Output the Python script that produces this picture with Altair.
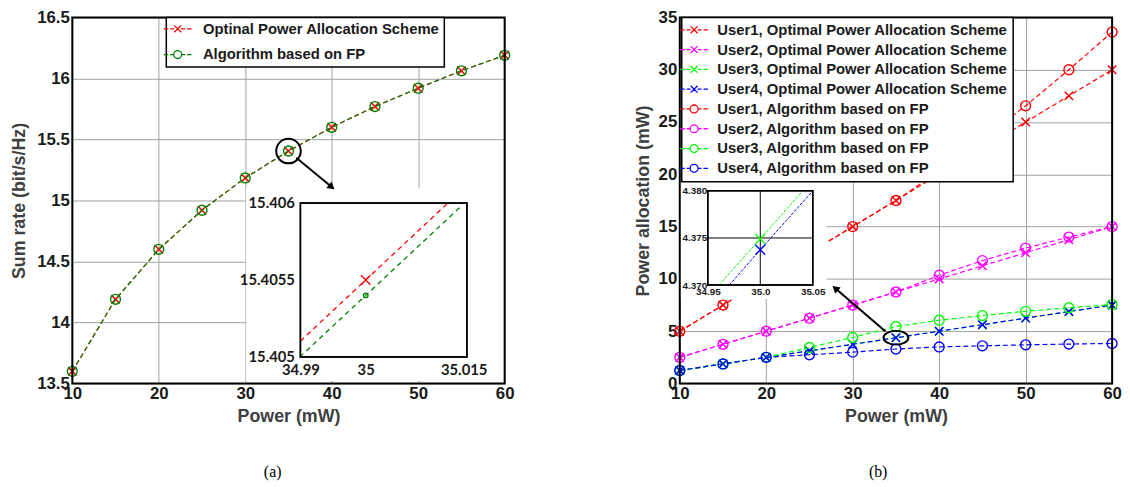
import math
import altair as alt
import pandas as pd

# ---------------- data ----------------
power = [10, 15, 20, 25, 30, 35, 40, 45, 50, 55, 60]

# panel (a): sum rate
rate_opt = [13.60, 14.19, 14.60, 14.92, 15.185, 15.4055, 15.60, 15.77, 15.92, 16.063, 16.19]
rate_fp = [13.60, 14.19, 14.60, 14.92, 15.185, 15.4054, 15.60, 15.77, 15.92, 16.063, 16.19]
names_a = ["Optinal Power Allocation Scheme", "Algorithm based on FP"]
colors_a = ["#ff0000", "#008000"]
kinds_a = ["x", "o"]

# panel (a) inset (zoom around 35 mW)
ia_opt_x = [34.99, 35.0, 35.0126]
ia_opt_y = [15.405103, 15.4055, 15.406]
ia_fp_x = [34.9899, 35.0, 35.0144]
ia_fp_y = [15.405, 15.4054, 15.40597]

# panel (b): power allocation
u1_opt = [5, 7.5, 10, 12.5, 15, 17.5, 20, 22.5, 25, 27.5, 30]
u2_opt = [2.5, 3.75, 5, 6.25, 7.5, 8.75, 10, 11.25, 12.5, 13.75, 15]
u3_opt = [1.25, 1.875, 2.5, 3.125, 3.75, 4.3749, 5, 5.625, 6.25, 6.875, 7.5]
u4_opt = [1.25, 1.875, 2.5, 3.125, 3.75, 4.37375, 5, 5.625, 6.25, 6.875, 7.5]
u1_fp = [5, 7.5, 10, 12.5, 15, 17.5, 20.3, 23.4, 26.55, 30.0, 33.6]
u2_fp = [2.5, 3.75, 5, 6.25, 7.5, 8.75, 10.35, 11.75, 12.95, 14.0, 15.0]
u3_fp = [1.25, 1.875, 2.5, 3.45, 4.4, 5.45, 6.05, 6.5, 6.9, 7.25, 7.55]
u4_fp = [1.25, 1.875, 2.5, 2.75, 3.0, 3.3, 3.5, 3.6, 3.7, 3.77, 3.83]
names_b = ["User1, Optimal Power Allocation Scheme", "User2, Optimal Power Allocation Scheme",
           "User3, Optimal Power Allocation Scheme", "User4, Optimal Power Allocation Scheme",
           "User1, Algorithm based on FP", "User2, Algorithm based on FP",
           "User3, Algorithm based on FP", "User4, Algorithm based on FP"]
colors_b = ["#ff0000", "#ff00ff", "#00ff00", "#0000ff", "#ff0000", "#ff00ff", "#00ff00", "#0000ff"]
kinds_b = ["x", "x", "x", "x", "o", "o", "o", "o"]

# panel (b) inset (zoom around 35 mW)
ib_u3_x = [34.9605, 35.0, 35.0405]
ib_u3_y = [4.370, 4.3749, 4.380]
ib_u4_x = [34.9705, 35.0, 35.05]
ib_u4_y = [4.370, 4.37375, 4.380]

# ticks
x_ticks = [10, 20, 30, 40, 50, 60]
ya_ticks = [13.5, 14, 14.5, 15, 15.5, 16, 16.5]
yb_ticks = [0, 5, 10, 15, 20, 25, 30, 35]
ia_x_ticks = [34.99, 35.0, 35.015]
ia_y_ticks = [15.405, 15.4055, 15.406]
ib_x_ticks = [34.95, 35.0, 35.05]
ib_y_ticks = [4.370, 4.375, 4.380]
ib_grid_x = [35.0]
ib_grid_y = [4.375]

# ---------------- layout / style ----------------
W, H = 437, 370
DOM_X = [10, 60]
DOM_YA = [13.5, 16.5]
DOM_YB = [0, 35]
IA_DOM_X = [34.99, 35.0155]
IA_DOM_Y = [15.405, 15.406]
IB_DOM_X = [34.95, 35.05]
IB_DOM_Y = [4.370, 4.380]
IA_BOX = [36.38, 55.64, 13.717, 14.98]      # inset frame position, main coordinates
IB_BOX = [13.24, 25.38, 9.41, 18.42]
IA_COVER = [30.1, 60, 13.52, 15.1]
IB_COVER = [10, 27, 8.07, 19.42]
IA_ZOOM = [35, 15.405]
IB_ZOOM = [35, 4.375]
IA_ARROW = [35.9, 15.35, 40.0, 15.11]
IB_ARROW = [33.8, 4.97, 27.98, 9.1]

FONT = "Liberation Sans"
GRID = "#a0a0a0"
LAB = "#1a1a1a"
TIT = "#404040"

X_PATH = "M-1,-1L1,1M-1,1L1,-1"
LEG_X = "M-14,0H-9.5M-7.5,0H-3.5M3.5,0H7.5M9.5,0H14M-3.5,-3.5L3.5,3.5M-3.5,3.5L3.5,-3.5"
LEG_O = "M-14,0H-9.5M-7.5,0H-4M4,0H7.5M9.5,0H14M-4,0A4,4 0 1,0 4,0A4,4 0 1,0 -4,0"
ELLIPSE = "M-1.8,0A1.8,1 0 1,0 1.8,0A1.8,1 0 1,0 -1.8,0"


def px_x(v, dom):
    return (v - dom[0]) / (dom[1] - dom[0]) * W


def px_y(v, dom):
    return (dom[1] - v) / (dom[1] - dom[0]) * H


def sc(dom, rng=None):
    if rng is None:
        return alt.Scale(domain=dom, nice=False, zero=False)
    return alt.Scale(domain=dom, range=rng, nice=False, zero=False)


def main_x_axis():
    return alt.Axis(orient="bottom", values=x_ticks, title="Power (mW)", grid=True, gridColor=GRID,
                    gridWidth=1, domain=False, ticks=False, labelPadding=2, labelFont=FONT,
                    labelFontSize=17, labelFontWeight="bold", labelColor=LAB, labelFlush=False,
                    labelOverlap=False, titleFont=FONT, titleFontSize=18, titleFontWeight="bold",
                    titleColor=TIT, titlePadding=6)


def main_y_axis(vals, title, fmt, tpad):
    return alt.Axis(orient="left", values=vals, title=title, format=fmt, grid=True, gridColor=GRID,
                    gridWidth=1, domain=False, ticks=False, labelPadding=3, labelFont=FONT,
                    labelFontSize=17, labelFontWeight="bold", labelColor=LAB, labelFlush=False,
                    labelOverlap=False, titleFont=FONT, titleFontSize=18, titleFontWeight="bold",
                    titleColor=TIT, titlePadding=tpad)


def make_legend(lx, ly, row_pad, lab_off, pad):
    return alt.Legend(title=None, orient="none", legendX=lx, legendY=ly, fillColor="white",
                      strokeColor="black", padding=pad, rowPadding=row_pad, labelOffset=lab_off,
                      labelFont=FONT, labelFontSize=15, labelFontWeight="bold", labelColor=LAB,
                      labelLimit=500, symbolSize=4, symbolStrokeWidth=1.3, symbolOpacity=1)


def main_layers(dom_y, x_axis, y_axis, names, colors, kinds, series_vals, legend,
                cover, zoom, zoom_shape, zoom_size, arrow):
    def X(f, axis=None):
        return alt.X(f, type="quantitative", scale=sc(DOM_X), axis=axis)

    def Y(f, axis=None):
        return alt.Y(f, type="quantitative", scale=sc(dom_y), axis=axis)

    layers = []
    fdf = pd.DataFrame({"x0": [DOM_X[0]], "x1": [DOM_X[1]], "y0": [dom_y[0]], "y1": [dom_y[1]]})
    layers.append(alt.Chart(fdf).mark_rect(fill="transparent").encode(
        x=X("x0", x_axis), x2="x1", y=Y("y0", y_axis), y2="y1"))

    for col, kd, vals in zip(colors, kinds, series_vals):
        df = pd.DataFrame({"p": power, "v": vals})
        base = alt.Chart(df).encode(x=X("p"), y=Y("v"))
        layers.append(base.mark_line(color=col, strokeDash=[5, 3], strokeWidth=1.2))
        if kd == "x":
            layers.append(base.mark_point(shape=X_PATH, size=72, color=col, filled=False,
                                          strokeWidth=1.5, opacity=1))
        else:
            layers.append(base.mark_point(shape="circle", size=100, color=col, filled=False,
                                          strokeWidth=1.4, opacity=1))

    ldf = pd.DataFrame({"p": [power[0]] * len(names), "v": [s[0] for s in series_vals], "s": names})
    shapes = [LEG_X if k == "x" else LEG_O for k in kinds]
    layers.append(alt.Chart(ldf).mark_point(opacity=0, size=4, filled=False, strokeWidth=1.3).encode(
        x=X("p"), y=Y("v"),
        color=alt.Color("s", type="nominal", scale=alt.Scale(domain=names, range=colors), legend=legend),
        shape=alt.Shape("s", type="nominal", scale=alt.Scale(domain=names, range=shapes), legend=legend)))

    cdf = pd.DataFrame({"x0": [cover[0]], "x1": [cover[1]], "y0": [cover[2]], "y1": [cover[3]]})
    layers.append(alt.Chart(cdf).mark_rect(color="white").encode(
        x=X("x0"), x2="x1", y=Y("y0"), y2="y1"))

    zdf = pd.DataFrame({"p": [zoom[0]], "v": [zoom[1]]})
    layers.append(alt.Chart(zdf).mark_point(shape=zoom_shape, size=zoom_size, color="black",
                                            filled=False, strokeWidth=2, opacity=1).encode(
        x=X("p"), y=Y("v")))

    adf = pd.DataFrame({"p": [arrow[0]], "v": [arrow[1]], "p2": [arrow[2]], "v2": [arrow[3]]})
    layers.append(alt.Chart(adf).mark_rule(color="black", strokeWidth=2).encode(
        x=X("p"), x2="p2", y=Y("v"), y2="v2"))
    dxp = px_x(arrow[2], DOM_X) - px_x(arrow[0], DOM_X)
    dyp = px_y(arrow[3], dom_y) - px_y(arrow[1], dom_y)
    ang = math.degrees(math.atan2(dyp, dxp)) % 360
    layers.append(alt.Chart(adf).mark_point(shape="triangle-right", angle=ang, size=70, filled=True,
                                            color="black", opacity=1).encode(
        x=X("p2"), y=Y("v2")))

    layers.append(alt.Chart(fdf).mark_rect(fill="transparent", stroke="black", strokeWidth=2).encode(
        x=X("x0"), x2="x1", y=Y("y0"), y2="y1"))
    return layers


def inset_layers(dom_x, dom_y, box, main_dom_y, xt, yt, xfmt_expr, yfmt, lab_font, lab_size,
                 lab_pad_x, lab_pad_y, lines, marks, grid_x, grid_y):
    rx = [px_x(box[0], DOM_X), px_x(box[1], DOM_X)]
    ry = [px_y(box[2], main_dom_y), px_y(box[3], main_dom_y)]
    xaxis = alt.Axis(orient="bottom", offset=ry[0] - H, values=xt, labelExpr=xfmt_expr, title=None,
                     domain=False, ticks=False, grid=False, labelFont=lab_font, labelFontSize=lab_size,
                     labelFontWeight="bold", labelColor=LAB, labelPadding=lab_pad_x,
                     labelFlush=False, labelOverlap=False, zindex=2)
    yaxis = alt.Axis(orient="left", offset=-rx[0], values=yt, format=yfmt, title=None,
                     domain=False, ticks=False, grid=False, labelFont=lab_font, labelFontSize=lab_size,
                     labelFontWeight="bold", labelColor=LAB, labelPadding=lab_pad_y,
                     labelFlush=False, labelOverlap=False, zindex=2)

    def X(f, axis=None):
        return alt.X(f, type="quantitative", scale=sc(dom_x, rx), axis=axis)

    def Y(f, axis=None):
        return alt.Y(f, type="quantitative", scale=sc(dom_y, ry), axis=axis)

    layers = []
    fdf = pd.DataFrame({"a": [dom_x[0]], "b": [dom_x[1]], "c": [dom_y[0]], "d": [dom_y[1]]})
    layers.append(alt.Chart(fdf).mark_rect(fill="white", stroke="black", strokeWidth=1.5).encode(
        x=X("a", xaxis), x2="b", y=Y("c", yaxis), y2="d"))
    for gx in grid_x:
        gdf = pd.DataFrame({"a": [gx], "c": [dom_y[0]], "d": [dom_y[1]]})
        layers.append(alt.Chart(gdf).mark_rule(color="black", strokeWidth=1).encode(
            x=X("a"), y=Y("c"), y2="d"))
    for gy in grid_y:
        gdf = pd.DataFrame({"c": [gy], "a": [dom_x[0]], "b": [dom_x[1]]})
        layers.append(alt.Chart(gdf).mark_rule(color="black", strokeWidth=1).encode(
            y=Y("c"), x=X("a"), x2="b"))
    for xs, ys, col, dash, sw in lines:
        ldf = pd.DataFrame({"a": xs, "c": ys})
        layers.append(alt.Chart(ldf).mark_line(color=col, strokeDash=dash, strokeWidth=sw).encode(
            x=X("a"), y=Y("c")))
    for mx, my, shp, size, col, sw in marks:
        mdf = pd.DataFrame({"a": [mx], "c": [my]})
        layers.append(alt.Chart(mdf).mark_point(shape=shp, size=size, color=col, filled=False,
                                                strokeWidth=sw, opacity=1).encode(
            x=X("a"), y=Y("c")))
    layers.append(alt.Chart(fdf).mark_rect(fill="transparent", stroke="black", strokeWidth=1.5).encode(
        x=X("a"), x2="b", y=Y("c"), y2="d"))
    return layers


# ---------------- panel (a) ----------------
la = main_layers(
    DOM_YA, main_x_axis(), main_y_axis(ya_ticks, "Sum rate (bit/s/Hz)", ".1~f", 8),
    names_a, colors_a, kinds_a, [rate_opt, rate_fp],
    make_legend(95, 0, 10, 18, 4), IA_COVER, IA_ZOOM, "circle", 615, IA_ARROW)
la += inset_layers(
    IA_DOM_X, IA_DOM_Y, IA_BOX, DOM_YA, ia_x_ticks, ia_y_ticks,
    "format(datum.value, '.5~g')", ".7~g", "Lato", 15, 6, 6,
    [(ia_opt_x, ia_opt_y, "#ff0000", [5, 4], 1.3), (ia_fp_x, ia_fp_y, "#008000", [5, 4], 1.3)],
    [(ia_opt_x[1], ia_opt_y[1], X_PATH, 90, "#ff0000", 1.4),
     (ia_fp_x[1], ia_fp_y[1], "circle", 22, "#008000", 1.3)],
    [], [])

panel_a = alt.layer(*la).resolve_scale(x="independent", y="independent").properties(
    width=W, height=H,
    title=alt.TitleParams("(a)", orient="bottom", font="Liberation Serif", fontSize=16,
                          fontWeight="normal", color="black", offset=39, dx=-16))

# ---------------- panel (b) ----------------
lb = main_layers(
    DOM_YB, main_x_axis(), main_y_axis(yb_ticks, "Power allocation (mW)", "d", 6),
    names_b, colors_b, kinds_b, [u1_opt, u2_opt, u3_opt, u4_opt, u1_fp, u2_fp, u3_fp, u4_fp],
    make_legend(2, 0, 4, 16, 5), IB_COVER, IB_ZOOM, ELLIPSE, 193, IB_ARROW)
lb += inset_layers(
    IB_DOM_X, IB_DOM_Y, IB_BOX, DOM_YB, ib_x_ticks, ib_y_ticks,
    "datum.value == 35 ? '35.0' : format(datum.value, '.2f')", ".3f", FONT, 10, 2, 1,
    [(ib_u3_x, ib_u3_y, "#00ff00", [3, 1.5], 1), (ib_u4_x, ib_u4_y, "#0000ff", [3, 1.5], 1)],
    [(ib_u3_x[1], ib_u3_y[1], X_PATH, 100, "#00ff00", 1.3),
     (ib_u4_x[1], ib_u4_y[1], X_PATH, 100, "#0000ff", 1.3)],
    ib_grid_x, ib_grid_y)

panel_b = alt.layer(*lb).resolve_scale(x="independent", y="independent").properties(
    width=W, height=H,
    title=alt.TitleParams("(b)", orient="bottom", font="Liberation Serif", fontSize=16,
                          fontWeight="normal", color="black", offset=39, dx=-18))

chart = alt.hconcat(panel_a, panel_b, spacing=121).resolve_scale(
    color="independent", shape="independent").properties(
    padding={"left": 2, "top": -2, "right": 0, "bottom": 0}, background="white"
).configure_view(stroke=None).configure_legend(strokeWidth=1.5)

chart.save("out.html", embed_options={"renderer": "svg", "actions": False})
